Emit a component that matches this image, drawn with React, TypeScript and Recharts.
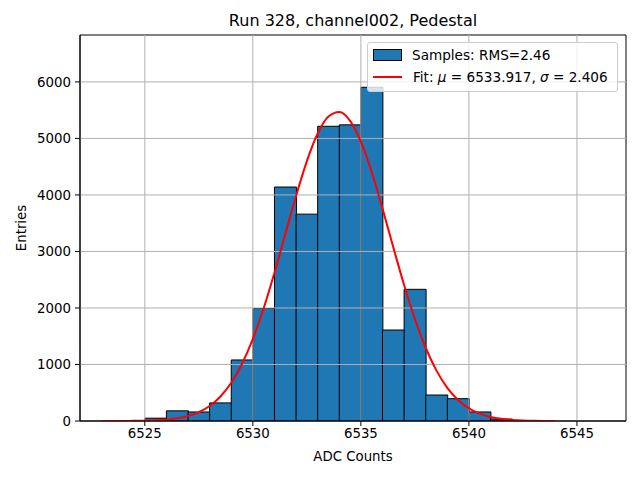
import {
  ComposedChart,
  Bar,
  Line,
  XAxis,
  YAxis,
  ReferenceLine,
  ReferenceArea,
} from "recharts";

// histogram bins (left edge, width 1 ADC count)
const binEdges = [
  6525, 6526, 6527, 6528, 6529, 6530, 6531, 6532, 6533, 6534, 6535, 6536,
  6537, 6538, 6539, 6540, 6541, 6542,
];
const binCounts = [
  50, 180, 160, 320, 1080, 1990, 4140, 3660, 5215, 5240, 5905, 1610, 2330,
  460, 395, 160, 35, 6,
];

// gaussian fit curve
const fitX = [
  6523, 6523.5, 6524, 6524.5, 6525, 6525.5, 6526, 6526.5, 6527, 6527.5, 6528,
  6528.5, 6529, 6529.5, 6530, 6530.5, 6531, 6531.5, 6532, 6532.5, 6533,
  6533.5, 6534, 6534.5, 6535, 6535.5, 6536, 6536.5, 6537, 6537.5, 6538,
  6538.5, 6539, 6539.5, 6540, 6540.5, 6541, 6541.5, 6542, 6542.5, 6543,
  6543.5, 6544,
];
const fitY = [
  0.2, 0.5, 1.1, 2.6, 5.7, 12, 24, 47, 88, 156, 266, 434, 678, 1014, 1454,
  1994, 2623, 3303, 3982, 4599, 5087, 5388, 5467, 5312, 4943, 4406, 3760,
  3074, 2407, 1805, 1296, 891, 587, 371, 224, 130, 72, 38, 19, 9.4, 4.4, 2,
  0.8,
];

const xTicks = [6525, 6530, 6535, 6540, 6545];
const yTicks = [0, 1000, 2000, 3000, 4000, 5000, 6000];
const xDomain: [number, number] = [6522, 6547.27];
const yDomain: [number, number] = [0, 6830];

const bins = binEdges.map((edge, i) => ({ x: edge + 0.5, count: binCounts[i] }));
const fit = fitX.map((x, i) => ({ x, y: fitY[i] }));

const FONT = "'DejaVu Sans', sans-serif";
const GRID = "#b0b0b0";
const tickStyle = { fill: "#000", fontSize: 13.33, fontFamily: FONT };

export default function App() {
  return (
    <div
      style={{
        position: "fixed",
        left: 0,
        top: 0,
        width: 640,
        height: 480,
        background: "#fff",
        fontFamily: FONT,
      }}
    >
      <ComposedChart
        width={640}
        height={480}
        data={bins}
        margin={{ top: 35, right: 14, bottom: 0, left: 0 }}
        barCategoryGap={0}
        barGap={0}
      >
        <XAxis
          dataKey="x"
          type="number"
          domain={xDomain}
          allowDataOverflow
          ticks={xTicks}
          height={59}
          tick={tickStyle}
          tickSize={5}
          tickMargin={3}
          stroke="#000"
        />
        <XAxis
          xAxisId="fit"
          dataKey="x"
          type="number"
          orientation="top"
          domain={xDomain}
          allowDataOverflow
          height={0}
          tick={false}
          tickLine={false}
          axisLine={false}
        />
        <YAxis
          type="number"
          domain={yDomain}
          allowDataOverflow
          ticks={yTicks}
          width={80}
          tick={tickStyle}
          tickSize={5}
          tickMargin={4}
          stroke="#000"
        />
        <Bar
          dataKey="count"
          fill="#1f77b4"
          stroke="#000"
          strokeWidth={1}
          isAnimationActive={false}
        />
        {xTicks.map((t) => (
          <ReferenceLine key={"gx" + t} x={t} stroke={GRID} strokeWidth={1} />
        ))}
        {yTicks.slice(1).map((t) => (
          <ReferenceLine key={"gy" + t} y={t} stroke={GRID} strokeWidth={1} />
        ))}
        <Line
          xAxisId="fit"
          data={fit}
          dataKey="y"
          type="monotone"
          stroke="#ff0000"
          strokeWidth={2}
          dot={false}
          isAnimationActive={false}
        />
        <ReferenceArea
          x1={xDomain[0]}
          x2={xDomain[1]}
          y1={yDomain[0]}
          y2={yDomain[1]}
          ifOverflow="visible"
          fill="none"
          fillOpacity={0}
          stroke="#000"
          strokeWidth={1}
        />
      </ComposedChart>

      <div
        style={{
          position: "absolute",
          left: 80,
          width: 546,
          top: 11,
          textAlign: "center",
          fontSize: 16,
          lineHeight: "20px",
        }}
      >
        Run 328, channel002, Pedestal
      </div>
      <div
        style={{
          position: "absolute",
          left: 80,
          width: 546,
          top: 448,
          textAlign: "center",
          fontSize: 13.33,
          lineHeight: "18px",
        }}
      >
        ADC Counts
      </div>
      <div
        style={{
          position: "absolute",
          left: 22 - 60,
          top: 228 - 9,
          width: 120,
          textAlign: "center",
          fontSize: 13.33,
          lineHeight: "18px",
          transform: "rotate(-90deg)",
        }}
      >
        Entries
      </div>

      <div
        style={{
          position: "absolute",
          left: 367,
          top: 42,
          width: 249,
          height: 48,
          background: "rgba(255,255,255,0.8)",
          border: "1px solid #cccccc",
          borderRadius: 3,
          fontSize: 13.6,
          boxSizing: "content-box",
        }}
      >
        <div style={{ position: "absolute", left: 5, top: 6, width: 27, height: 10, background: "#1f77b4", border: "1px solid #000" }} />
        <div style={{ position: "absolute", left: 44, top: 3, lineHeight: "18px", whiteSpace: "nowrap" }}>
          Samples: RMS=2.46
        </div>
        <div style={{ position: "absolute", left: 5, top: 33, width: 29, height: 2, background: "#ff0000" }} />
        <div style={{ position: "absolute", left: 45, top: 25, lineHeight: "18px", whiteSpace: "nowrap" }}>
          Fit: <i>μ</i> = 6533.917, <i>σ</i> = 2.406
        </div>
      </div>
    </div>
  );
}
